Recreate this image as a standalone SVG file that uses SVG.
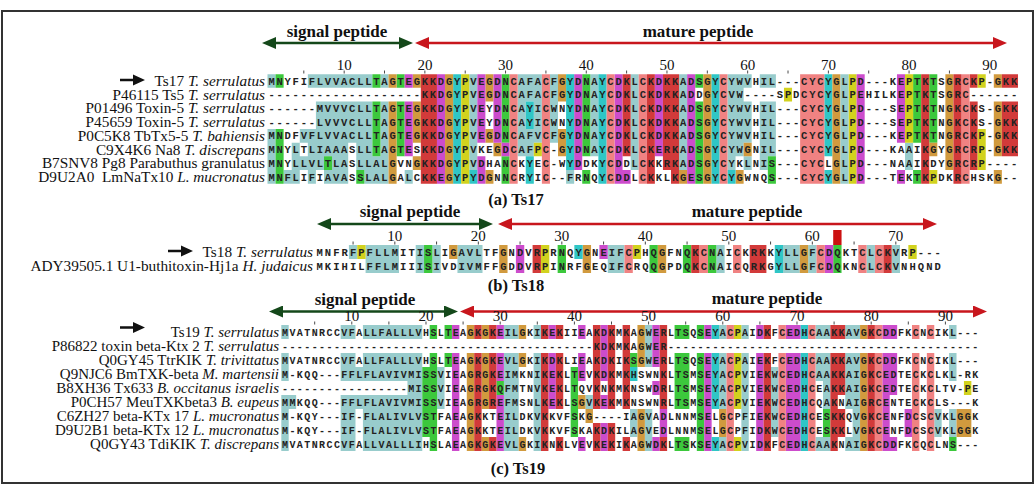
<svg xmlns="http://www.w3.org/2000/svg" width="1036" height="487" viewBox="0 0 1036 487">
<style>
.lb{font-family:"Liberation Serif","Times New Roman",serif;font-size:15.3px;fill:#111;text-anchor:end}
.lc{font-size:15px}
.it{font-style:italic}
.sa,.sb,.sc{font-family:"Liberation Mono","DejaVu Sans Mono",monospace;font-size:10.5px;font-weight:bold;fill:#222}
.sa{letter-spacing:1.77px}
.sb{letter-spacing:2.05px}
.sc{font-size:10px;letter-spacing:1.42px}
.num{font-family:"Liberation Serif","Times New Roman",serif;font-size:15px;fill:#111;text-anchor:middle}
.hd{font-family:"Liberation Serif","Times New Roman",serif;font-size:17px;font-weight:bold;fill:#111;text-anchor:middle}
.pl{font-family:"Liberation Serif","Times New Roman",serif;font-size:16.5px;font-weight:bold;fill:#111;text-anchor:middle}
.bg path{fill:none}
.h{stroke:#98cccc}.g{stroke:#3cc83c}.o{stroke:#d19a3e}.m{stroke:#cc4ccc}.r{stroke:#d23a3a}.c{stroke:#2fc6c6}.y{stroke:#d2d21e}.p{stroke:#f08282}
.tk{fill:none;stroke:#444}
.ga{stroke:#14481a;stroke-width:2.6;fill:none;marker-start:url(#hg);marker-end:url(#hg)}
.ra{stroke:#c8161d;stroke-width:2.4;fill:none;marker-start:url(#hr);marker-end:url(#hr)}
</style>
<defs>
<marker id="hg" viewBox="0 0 14 12" refX="3" refY="6" markerWidth="14" markerHeight="12" markerUnits="userSpaceOnUse" orient="auto-start-reverse"><path d="M0 0L14 6L0 12z" fill="#14481a"/></marker>
<marker id="hr" viewBox="0 0 14 12" refX="3" refY="6" markerWidth="14" markerHeight="12" markerUnits="userSpaceOnUse" orient="auto-start-reverse"><path d="M0 0L14 6L0 12z" fill="#c8161d"/></marker>
<path id="ba" d="M0 -1.2h13v-4.3l12 5.5l-12 5.5v-4.3h-13z" fill="#111"/>
</defs>
<rect width="1036" height="487" fill="#fff"/>
<rect x="2" y="11" width="1031" height="472" fill="none" stroke="#333" stroke-width="2"/>

<g id="connectors">
<path class="ga" d="M273 43H402"/>
<path class="ra" d="M426 43H996"/>
<path class="ga" d="M328 224H482"/>
<path class="ra" d="M509 224H926"/>
<path class="ga" d="M280 311.5H447"/>
<path class="ra" d="M471 311.5H976"/>
<use href="#ba" x="120" y="80"/>
<use href="#ba" x="168" y="251"/>
<use href="#ba" x="120" y="327.5"/>
</g>

<g id="headers">
<text class="hd" x="337" y="37">signal peptide</text>
<text class="hd" x="698" y="37">mature peptide</text>
<text class="hd" x="410" y="217">signal peptide</text>
<text class="hd" x="747" y="217">mature peptide</text>
<text class="hd" x="365" y="305">signal peptide</text>
<text class="hd" x="767" y="304">mature peptide</text>
<text class="pl" x="516" y="205">(a) Ts17</text>
<text class="pl" x="516" y="291">(b) Ts18</text>
<text class="pl" x="518" y="474">(c) Ts19</text>
</g>

<!-- Panel A -->
<g id="panel-a">
<g class="bg" transform="translate(267.5 81) scale(8.07 13.7)" stroke-width="1">
<path class="h" d="M0 0h1M5 0h8M14 0h1M25 0h1M31 0h3M35 0h1M40 0h1M45 0h1M51 0h1M57 0h3M61 0h2M25 1h1M31 1h3M35 1h1M40 1h1M45 1h1M51 1h1M57 1h2M6 2h7M14 2h1M25 2h1M31 2h1M33 2h1M35 2h1M40 2h1M45 2h1M51 2h1M57 2h3M61 2h2M6 3h7M14 3h1M25 3h1M31 3h1M33 3h1M35 3h1M40 3h1M45 3h1M51 3h1M57 3h3M61 3h2M0 4h1M4 4h9M14 4h1M25 4h1M31 4h3M35 4h1M40 4h1M45 4h1M51 4h1M57 4h3M61 4h2M0 5h1M3 5h1M5 5h5M11 5h2M14 5h1M25 5h1M31 5h2M40 5h1M45 5h1M51 5h1M57 5h2M61 5h2M79 5h1M0 6h1M3 6h4M8 6h2M11 6h4M25 6h1M45 6h1M51 6h1M57 6h1M59 6h1M61 6h1M79 6h1M0 7h1M2 7h2M5 7h1M7 7h3M12 7h3M17 7h1M37 7h1"/>
<path class="g" d="M1 0h1M13 0h1M16 0h1M29 0h1M39 0h1M53 0h1M80 0h1M82 0h1M29 1h1M39 1h1M80 1h1M82 1h1M13 2h1M16 2h1M29 2h1M39 2h1M53 2h1M80 2h1M82 2h1M13 3h1M16 3h1M29 3h1M39 3h1M53 3h1M80 3h1M82 3h1M1 4h1M13 4h1M16 4h1M29 4h1M39 4h1M53 4h1M80 4h1M82 4h1M1 5h1M13 5h1M16 5h1M39 5h1M53 5h1M1 6h1M7 6h1M29 6h1M53 6h1M62 6h1M1 7h1M11 7h1M29 7h1M39 7h1M53 7h1M62 7h1M80 7h1"/>
<path class="o" d="M15 0h1M18 0h1M27 0h1M36 0h1M84 0h1M90 0h1M27 1h1M36 1h1M84 1h1M15 2h1M18 2h1M84 2h1M90 2h1M15 3h1M18 3h1M84 3h1M90 3h1M15 4h1M18 4h1M27 4h1M36 4h1M84 4h1M90 4h1M15 5h1M28 5h1M36 5h1M59 5h1M82 5h1M84 5h1M90 5h1M15 6h1M18 6h1M84 6h1M15 7h1M27 7h1M51 7h1M58 7h1M90 7h1"/>
<path class="m" d="M17 0h1M26 0h1M28 0h1M38 0h1M43 0h1M48 0h1M78 0h1M26 1h1M28 1h1M38 1h1M43 1h1M48 1h1M78 1h1M17 2h1M26 2h1M28 2h1M38 2h1M43 2h1M48 2h1M78 2h1M17 3h1M26 3h1M28 3h1M38 3h1M43 3h1M48 3h1M78 3h1M17 4h1M26 4h1M28 4h1M38 4h1M43 4h1M48 4h1M78 4h1M17 5h1M29 5h1M38 5h1M43 5h1M48 5h1M26 6h1M38 6h1M43 6h1M26 7h1M43 7h2M78 7h1"/>
<path class="r" d="M44 0h1M49 0h2M87 0h1M91 0h2M44 1h1M49 1h2M44 2h1M49 2h2M87 2h1M91 2h2M44 3h1M49 3h2M87 3h1M91 3h2M44 4h1M49 4h2M87 4h1M91 4h2M44 5h1M49 5h2M87 5h1M91 5h2M49 6h2M87 6h1M50 7h1"/>
<path class="c" d="M37 0h1M69 0h1M37 1h1M69 1h1M32 2h1M37 2h1M69 2h1M32 3h1M37 3h1M69 3h1M37 4h1M69 4h1M37 5h1M69 5h1M32 6h1M37 6h1M25 7h1M32 7h1M57 7h1M69 7h1"/>
<path class="y" d="M79 0h1M88 0h1M64 1h1M79 1h1M79 2h1M79 3h1M79 4h1M88 4h1M33 5h1M88 5h1M88 6h1M82 7h1"/>
<g stroke-width="8">
<path class="p" d="M30 3.5h1M34 3.5h1M42 3.5h1M46 3.5h1M56 3.5h1M66 3.5h3M86 3.5h1"/>
<path class="r" d="M19 3.5h2M47 3.5h1M81 3.5h1M85 3.5h1"/>
<path class="c" d="M23 3.5h1M41 3.5h1M55 3.5h1"/>
<path class="y" d="M24 3.5h1M72 3.5h1"/>
<path class="m" d="M21 3.5h1M52 3.5h1M73 3.5h1"/>
<path class="o" d="M22 3.5h1M54 3.5h1M70 3.5h1"/>
<path class="h" d="M71 3.5h1"/>
</g>
<path class="tk" stroke-width="0.12" d="M4.5 -.77v.22M9.5 -.77v.22M14.5 -.77v.22M19.5 -.77v.22M24.5 -.77v.22M29.5 -.77v.22M34.5 -.77v.22M39.5 -.77v.22M44.5 -.77v.22M49.5 -.77v.22M54.5 -.77v.22M59.5 -.77v.22M64.5 -.77v.22M69.5 -.77v.22M74.5 -.77v.22M79.5 -.77v.22M84.5 -.77v.22M89.5 -.77v.22"/>
</g>
<g id="a-ruler">
<text class="num" x="344.2" y="69.5">10</text><text class="num" x="424.9" y="69.5">20</text><text class="num" x="505.6" y="69.5">30</text><text class="num" x="586.3" y="69.5">40</text><text class="num" x="667" y="69.5">50</text><text class="num" x="747.7" y="69.5">60</text><text class="num" x="828.4" y="69.5">70</text><text class="num" x="909.1" y="69.5">80</text><text class="num" x="989.8" y="69.5">90</text>
</g>
<g id="a-ts17"><text class="lb" x="265" y="86">Ts17 <tspan class="it">T. serrulatus</tspan></text><text class="sa" x="268.39" y="84.6">MNYFIFLVVACLLTAGTEGKKDGYPVEGDNCAFACFGYDNAYCDKLCKDKKADSGYCYWVHIL---CYCYGLPD---KEPTKTSGRCKP-GKK</text></g>
<g id="a-p46115"><text class="lb" x="265" y="99.7">P46115 Ts5 <tspan class="it">T. serrulatus</tspan></text><text class="sa" x="268.39" y="98.3">-------------------KKDGYPVEGDNCAFACFGYDNAYCDKLCKDKKADDGYCVW----SPDCYCYGLPEHILKEPTKTSGRC------</text></g>
<g id="a-p01496"><text class="lb" x="265" y="113.4">P01496 Toxin-5 <tspan class="it">T. serrulatus</tspan></text><text class="sa" x="268.39" y="112">------MVVVCLLTAGTEGKKDGYPVEYDNCAYICWNYDNAYCDKLCKDKKADSGYCYWVHIL---CYCYGLPD---SEPTKTNGKCKS-GKK</text></g>
<g id="a-p45659"><text class="lb" x="265" y="127.1">P45659 Toxin-5 <tspan class="it">T. serrulatus</tspan></text><text class="sa" x="268.39" y="125.7">------LVVVCLLTAGTEGKKDGYPVEYDNCAYICWNYDNAYCDKLCKDKKADSGYCYWVHIL---CYCYGLPD---SEPTKTNGKCKS-GKK</text></g>
<g id="a-p0c5k8"><text class="lb" x="265" y="140.8">P0C5K8 TbTx5-5 <tspan class="it">T. bahiensis</tspan></text><text class="sa" x="268.39" y="139.4">MNDFVFLVVACLLTAGTEGKKDGYPVEGDNCAFVCFGYDNAYCDKLCKDKKADSGYCYWVHIL---CYCYGLPD---KEPTKTNGRCKP-GKK</text></g>
<g id="a-c9x4k6"><text class="lb" x="265" y="154.5">C9X4K6 Na8 <tspan class="it">T. discrepans</tspan></text><text class="sa" x="268.39" y="153.1">MNYLTLIAAASLLTAGTESKKDGYPVKEGDCAFPC-GYDNAYCDKLCKERKADSGYCYWGNIL---CYCYGLPD---KAAIKGYGRCRP-GKK</text></g>
<g id="a-b7snv8"><text class="lb" x="265" y="168.2">B7SNV8 Pg8 Parabuthus granulatus</text><text class="sa" x="268.39" y="166.8">MNYLLVLTLASLLALGVNGKKDGYPVDHANCKYEC-WYDDKYCDDLCKKRKADSGYCYKLNIS---CYCLGLPD---NAAIKDYGRCRP----</text></g>
<g id="a-d9u2a0"><text class="lb" x="265" y="181.9" xml:space="preserve">D9U2A0  LmNaTx10 <tspan class="it">L. mucronatus</tspan></text><text class="sa" x="268.39" y="180.5">MNFLIFIAVASSLALGALCKKEGYPYDGNNCRYIC--FRNQYCDDLCKKLKGESGYCYGWNQS---CYCYGLPD---TEKTKPDKRCHSKG--</text></g>
</g>

<!-- Panel B -->
<g id="panel-b">
<g class="bg" transform="translate(315.5 252) scale(8.35 14)" stroke-width="1">
<path class="h" d="M4 0h1M6 0h4M12 0h1M14 0h1M17 0h3M35 0h2M48 0h1M56 0h2M59 0h1M66 0h1M69 0h1M6 1h4M12 1h1M14 1h1M17 1h3M35 1h2M48 1h1M56 1h2M59 1h1M66 1h1M69 1h1"/>
<path class="g" d="M13 0h1M29 0h1M40 0h1M44 0h1M47 0h1M62 0h1M13 1h1M29 1h1M40 1h1M44 1h1M47 1h1M62 1h1"/>
<path class="o" d="M16 0h1M22 0h1M32 0h1M41 0h1M58 0h1M22 1h1M32 1h1M41 1h1M58 1h1"/>
<path class="m" d="M24 0h1M34 0h1M61 0h1M24 1h1M61 1h1"/>
<path class="r" d="M26 0h1M45 0h1M52 0h2M68 0h1M26 1h1M45 1h1M52 1h2M68 1h1"/>
<path class="c" d="M31 0h1M55 0h1M55 1h1"/>
<path class="y" d="M5 0h1M27 0h1M38 0h1M71 0h1M27 1h1"/>
<path class="p" stroke-width="2" d="M37 .5h1M46 .5h1M50 .5h1M60 .5h1M65 .5h1M67 .5h1"/>
<path class="tk" stroke-width="0.12" d="M4.5 -.75v.22M9.5 -.75v.22M14.5 -.75v.22M19.5 -.75v.22M24.5 -.75v.22M29.5 -.75v.22M34.5 -.75v.22M39.5 -.75v.22M44.5 -.75v.22M49.5 -.75v.22M54.5 -.75v.22M59.5 -.75v.22M64.5 -.75v.22M69.5 -.75v.22"/>
</g>
<rect x="833.2" y="230" width="8.35" height="15" fill="#cc1111"/>
<g id="b-ruler">
<text class="num" x="394.8" y="241">10</text><text class="num" x="478.3" y="241">20</text><text class="num" x="561.8" y="241">30</text><text class="num" x="645.3" y="241">40</text><text class="num" x="728.8" y="241">50</text><text class="num" x="812.3" y="241">60</text><text class="num" x="895.8" y="241">70</text>
</g>
<g id="b-ts18"><text class="lb" x="313" y="257">Ts18 <tspan class="it">T. serrulatus</tspan></text><text class="sb" x="316.53" y="255.6">MNFRFPFLLMITISLIGAVLTFGNDVRPRNQYGNEIFCPHQGFNQKCNAICKRKKYLLGFCDQKTCLCKVRP---</text></g>
<g id="b-ady39505"><text class="lb" x="313" y="271">ADY39505.1 U1-buthitoxin-Hj1a <tspan class="it">H. judaicus</tspan></text><text class="sb" x="316.53" y="269.6">MKIHILFFLMIIISIVDIVMFFGDDVRPINRFGEQIFCRQQGPDQKCNAICQRKGYLLGFCDQKNCLCKVNHQND</text></g>
</g>

<!-- Panel C -->
<g id="panel-c">
<g class="bg" transform="translate(281.3 332) scale(7.42 14)" stroke-width="1">
<path class="h" d="M0 0h1M8 0h2M11 0h8M30 0h2M34 0h1M49 0h1M59 0h1M62 0h1M72 0h2M76 0h2M90 0h1M49 1h1M0 2h1M8 2h2M11 2h8M30 2h2M34 2h1M49 2h1M59 2h1M62 2h1M72 2h2M76 2h2M90 2h1M0 3h1M8 3h11M21 3h1M30 3h2M34 3h1M59 3h1M62 3h1M66 3h1M72 3h2M76 3h2M90 3h1M17 4h2M21 4h1M30 4h2M34 4h1M59 4h1M62 4h1M66 4h1M73 4h1M76 4h2M0 5h2M8 5h11M21 5h1M30 5h2M34 5h1M41 5h1M59 5h1M62 5h1M66 5h1M73 5h1M76 5h2M0 6h1M8 6h2M11 6h8M30 6h2M34 6h1M47 6h1M49 6h1M62 6h1M66 6h1M77 6h1M88 6h1M90 6h1M0 7h1M8 7h2M11 7h8M30 7h2M34 7h1M47 7h1M49 7h1M62 7h1M66 7h1M77 7h1M88 7h1M90 7h1M0 8h1M8 8h2M11 8h8M30 8h2M34 8h1M49 8h1M59 8h1M62 8h1M72 8h2M76 8h2"/>
<path class="g" d="M20 0h1M22 0h1M53 0h2M56 0h1M20 2h1M22 2h1M47 2h1M53 2h2M56 2h1M19 3h2M39 3h1M53 3h2M56 3h1M19 4h2M29 4h1M39 4h1M53 4h2M56 4h1M19 5h2M39 5h1M53 5h2M56 5h1M19 6h2M39 6h1M56 6h1M73 6h1M19 7h2M39 7h1M56 7h1M73 7h1M20 8h1M53 8h2M56 8h1M90 8h1"/>
<path class="o" d="M25 0h1M27 0h1M32 0h1M48 0h1M78 0h1M48 1h1M25 2h1M27 2h1M32 2h1M48 2h1M78 2h1M25 3h1M27 3h1M78 3h1M25 4h1M27 4h1M78 4h1M25 5h1M27 5h1M40 5h1M78 5h1M25 6h1M41 6h1M48 6h1M59 6h1M78 6h1M91 6h2M25 7h1M48 7h1M59 7h1M78 7h1M91 7h2M25 8h1M27 8h1M32 8h1M48 8h1M78 8h1"/>
<path class="m" d="M23 0h1M29 0h1M36 0h1M40 0h1M43 0h1M50 0h1M57 0h1M64 0h1M68 0h2M81 0h2M43 1h1M50 1h1M23 2h1M29 2h1M36 2h1M40 2h1M43 2h1M50 2h1M57 2h1M64 2h1M68 2h2M81 2h2M23 3h1M29 3h1M36 3h1M40 3h1M43 3h1M57 3h1M64 3h1M68 3h2M81 3h2M23 4h1M36 4h1M50 4h1M57 4h1M64 4h1M68 4h2M81 4h2M23 5h1M29 5h1M36 5h1M43 5h1M57 5h1M64 5h1M68 5h2M81 5h1M23 6h1M29 6h1M51 6h1M57 6h1M64 6h1M68 6h2M81 6h1M84 6h1M23 7h1M29 7h1M43 7h1M51 7h1M57 7h1M64 7h1M68 7h2M81 7h1M84 7h1M23 8h1M29 8h1M40 8h1M43 8h1M50 8h1M57 8h1M64 8h1M68 8h2M81 8h2"/>
<path class="r" d="M26 0h1M28 0h1M35 0h1M37 0h1M42 0h1M44 0h1M46 0h1M51 0h1M65 0h1M74 0h2M79 0h1M42 1h1M44 1h1M46 1h1M51 1h1M26 2h1M28 2h1M35 2h1M37 2h1M42 2h1M44 2h1M46 2h1M51 2h1M65 2h1M74 2h2M79 2h1M26 3h1M28 3h1M35 3h1M37 3h1M42 3h1M44 3h1M46 3h1M51 3h1M65 3h1M74 3h2M79 3h1M26 4h1M28 4h1M35 4h1M37 4h1M42 4h1M44 4h1M46 4h1M51 4h1M65 4h1M74 4h2M79 4h1M26 5h1M28 5h1M35 5h1M37 5h1M42 5h1M44 5h1M46 5h1M51 5h1M65 5h1M74 5h1M79 5h1M26 6h1M35 6h1M65 6h1M74 6h2M79 6h1M26 7h1M35 7h1M42 7h1M44 7h1M65 7h1M74 7h2M79 7h1M26 8h1M28 8h1M35 8h1M37 8h1M42 8h1M44 8h1M46 8h1M51 8h1M65 8h1M74 8h1M79 8h1"/>
<path class="c" d="M58 0h1M70 0h1M58 2h1M70 2h1M47 3h1M58 3h1M70 3h1M58 4h1M70 4h1M58 5h1M70 5h1M70 6h1M70 7h1M58 8h1M70 8h1"/>
<path class="y" d="M61 0h1M61 2h1M61 3h1M61 4h1M92 4h1M61 5h1M61 8h1"/>
<path class="p" d="M60 0h1M67 0h1M71 0h1M80 0h1M85 0h1M87 0h1"/>
<path class="p" stroke-width="7" d="M60 5h1M67 5h1M71 5h1M80 5h1M85 5h1M87 5h1"/>
<path class="tk" stroke-width="0.13" d="M4.5 -.75v.22M9.5 -.75v.22M14.5 -.75v.22M19.5 -.75v.22M24.5 -.75v.22M29.5 -.75v.22M34.5 -.75v.22M39.5 -.75v.22M44.5 -.75v.22M49.5 -.75v.22M54.5 -.75v.22M59.5 -.75v.22M64.5 -.75v.22M69.5 -.75v.22M74.5 -.75v.22M79.5 -.75v.22M84.5 -.75v.22M89.5 -.75v.22"/>
</g>
<g id="c-ruler">
<text class="num" x="351.8" y="321">10</text><text class="num" x="426" y="321">20</text><text class="num" x="500.2" y="321">30</text><text class="num" x="574.4" y="321">40</text><text class="num" x="648.6" y="321">50</text><text class="num" x="722.8" y="321">60</text><text class="num" x="797" y="321">70</text><text class="num" x="871.2" y="321">80</text><text class="num" x="945.4" y="321">90</text>
</g>
<g id="c-ts19"><text class="lb lc" x="279" y="337">Ts19 <tspan class="it">T. serrulatus</tspan></text><text class="sc" x="282.01" y="335.5">MVATNRCCVFALLFALLLVHSLTEAGKGKEILGKIKEKIIEAKDKMKAGWERLTSQSEYACPAIDKFCEDHCAAKKAVGKCDDFKCNCIKL---</text></g>
<g id="c-p86822"><text class="lb lc" x="279" y="351">P86822 toxin beta-Ktx 2 <tspan class="it">T. serrulatus</tspan></text><text class="sc" x="282.01" y="349.5">------------------------------------------KDKMKAGWER------------------------------------------</text></g>
<g id="c-q0gy45"><text class="lb lc" x="279" y="365">Q0GY45 TtrKIK <tspan class="it">T. trivittatus</tspan></text><text class="sc" x="282.01" y="363.5">MVATNRCCVFALLFALLLVHSLTEAGKGKEVLGKIKDKLIEAKDKIKSGWERLTSQSEYACPAIEKFCEDHCAAKKAVGKCDDFKCNCIKL---</text></g>
<g id="c-q9njc6"><text class="lb lc" x="279" y="379">Q9NJC6 BmTXK-beta <tspan class="it">M. martensii</tspan></text><text class="sc" x="282.01" y="377.5">M-KQQ---FFLFLAVIVMISSVIEAGRGKEIMKNIKEKLTEVKDKMKHSWNKLTSMSEYACPVIEKWCEDHCAAKKAIGKCEDTECKCLKL-RK</text></g>
<g id="c-b8xh36"><text class="lb lc" x="279" y="393">B8XH36 Tx633 <tspan class="it">B. occitanus israelis</tspan></text><text class="sc" x="282.01" y="391.5">-----------------MISSVIEAGRGKQFMTNVKEKLTQVKNKMKNSWDRLTSMSEYACPVIEKWCEDHCEAKKAIGKCEDTECKCLTV-PE</text></g>
<g id="c-p0ch57"><text class="lb lc" x="279" y="407">P0CH57 MeuTXKbeta3 <tspan class="it">B. eupeus</tspan></text><text class="sc" x="282.01" y="405.5">MMKQQ---FFLFLAVIVMISSVIEAGRGREFMSNLKEKLSGVKEKMKNSWNRLTSMSEYACPVIEKWCEDHCQAKNAIGRCENTECKCLS---K</text></g>
<g id="c-c6zh27"><text class="lb lc" x="279" y="421">C6ZH27 beta-KTx 17 <tspan class="it">L. mucronatus</tspan></text><text class="sc" x="282.01" y="419.5">M-KQY---IF-FLALIVLVSTFAEAGKKTEILDKVKKVFSKG----IAGVADLNNMSELGCPFIEKWCEDHCESKKQVGKCENFDCSCVKLGGK</text></g>
<g id="c-d9u2b1"><text class="lb lc" x="279" y="435">D9U2B1 beta-KTx 12 <tspan class="it">L. mucronatus</tspan></text><text class="sc" x="282.01" y="433.5">M-KQY---IF-FLALIVLVSTFAEAGKKTEILDKVKKVFSKAKDKILAGVEDLNNMSELGCPFIDKWCEDHCESKKLVGKCENFDCSCVKLGGK</text></g>
<g id="c-q0gy43"><text class="lb lc" x="279" y="449">Q0GY43 TdiKIK <tspan class="it">T. discrepans</tspan></text><text class="sc" x="282.01" y="447.5">MVATNRCCVFALLVALLLIHSLAEAGKGKEVLGKIKNKLVEVKEKIKAGWDKLTSKSEYACPVIDKFCEDHCAAKNAIGKCDDFKCQCLNS---</text></g>
</g>
</svg>
